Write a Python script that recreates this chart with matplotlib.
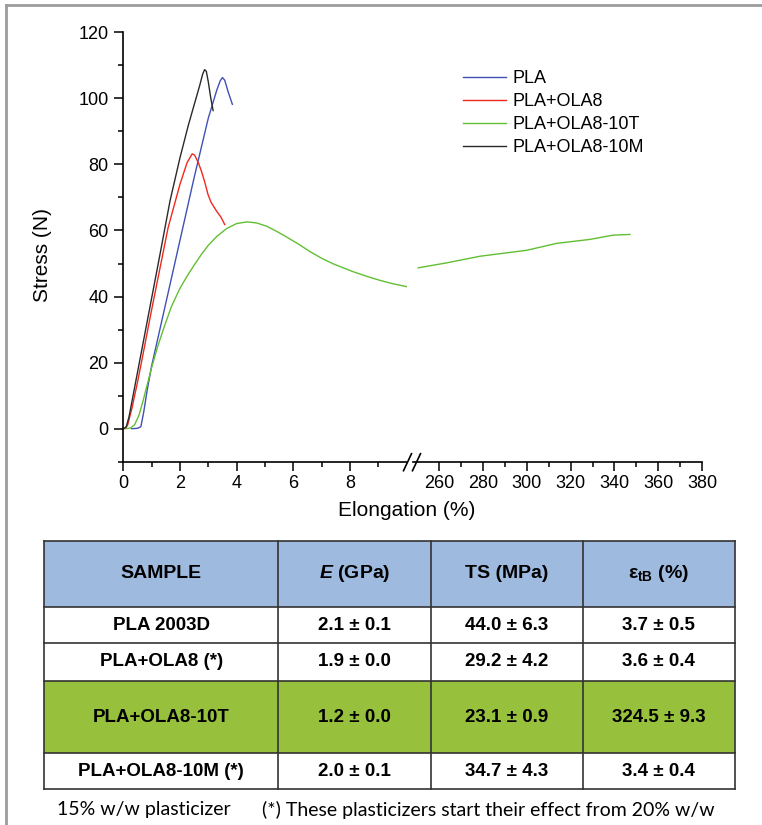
import matplotlib
matplotlib.use("Agg")
import matplotlib.pyplot as plt
from matplotlib.lines import Line2D
from matplotlib.patches import Rectangle

plt.rcParams["font.family"] = ["Liberation Sans", "DejaVu Sans"]
plt.rcParams["mathtext.fontset"] = "custom"
plt.rcParams["mathtext.it"] = "Liberation Sans:italic:bold"
plt.rcParams["mathtext.bf"] = "Liberation Sans:bold"
plt.rcParams["mathtext.rm"] = "Liberation Sans"

W, H = 762, 825

# --------------------------------------------------------------------------
# data: stress-strain curves
# --------------------------------------------------------------------------
pla_x = [0.30, 0.50, 0.62, 0.72, 0.85, 1.00, 1.50, 2.00, 2.50, 3.00, 3.30, 3.42, 3.50, 3.58, 3.70, 3.85]
pla_y = [0.0, 0.1, 0.6, 5.0, 12.0, 19.0, 38.0, 57.0, 76.0, 94.0, 102.5, 105.3, 106.3, 105.5, 102.0, 98.2]

ola8_x = [0.05, 0.15, 0.30, 0.50, 0.65, 1.00, 1.58, 2.00, 2.25, 2.43, 2.52, 2.65, 2.76, 2.88, 2.99, 3.10, 3.29, 3.45, 3.58]
ola8_y = [0.0, 1.0, 6.0, 14.0, 20.5, 36.0, 60.8, 74.0, 80.5, 83.2, 82.8, 80.5, 77.9, 74.5, 70.9, 68.5, 65.9, 64.0, 61.8]

t10_x = [0.10, 0.25, 0.40, 0.55, 0.70, 0.85, 1.00, 1.20, 1.45, 1.70, 2.00, 2.24, 2.50, 2.76, 3.00, 3.30,
         3.65, 4.00, 4.36, 4.70, 5.06, 5.40, 5.77, 6.20, 6.59, 7.00, 7.41, 8.12, 8.60, 9.06, 9.50, 10.00]
t10_y = [0.0, 0.2, 1.2, 4.0, 8.5, 13.5, 18.5, 24.5, 31.0, 37.0, 42.5, 46.0, 49.5, 52.8, 55.5, 58.2,
         60.6, 62.1, 62.6, 62.3, 61.3, 59.8, 58.0, 55.8, 53.6, 51.6, 49.9, 47.5, 46.1, 44.9, 43.9, 43.0]
t10_x_hi = [250.4, 263.4, 278.6, 299.9, 313.6, 328.8, 339.5, 347.1]
t10_y_hi = [48.7, 50.2, 52.2, 54.0, 56.1, 57.3, 58.6, 58.8]

m10_x = [0.00, 0.10, 0.20, 0.40, 0.60, 1.00, 1.30, 1.65, 2.00, 2.30, 2.50, 2.70, 2.80, 2.87, 2.93, 3.00, 3.08, 3.17]
m10_y = [0.0, 0.5, 3.5, 12.5, 21.5, 39.5, 53.0, 69.0, 82.0, 92.0, 98.0, 104.0, 107.3, 108.7, 108.2, 105.0, 100.5, 96.3]

series_names = ["PLA", "PLA+OLA8", "PLA+OLA8-10T", "PLA+OLA8-10M"]
series_colors = ["#4050b4", "#f0281e", "#62bf34", "#2a2a2a"]

# table data
col_heads = ["SAMPLE", "$E$ (GPa)", "TS (MPa)", r"ε$_{\mathbf{tB}}$ (%)"]
samples = ["PLA 2003D", "PLA+OLA8 (*)", "PLA+OLA8-10T", "PLA+OLA8-10M (*)"]
e_mod = ["2.1 ± 0.1", "1.9 ± 0.0", "1.2 ± 0.0", "2.0 ± 0.1"]
ts = ["44.0 ± 6.3", "29.2 ± 4.2", "23.1 ± 0.9", "34.7 ± 4.3"]
eps_b = ["3.7 ± 0.5", "3.6 ± 0.4", "324.5 ± 9.3", "3.4 ± 0.4"]
highlight_row = 2
note_left = "15% w/w plasticizer"
note_right = "(*) These plasticizers start their effect from 20% w/w"


def fr(x0, y0, x1, y1):
    # pixel box (top-left origin) -> figure rect
    return [x0 / W, 1 - y1 / H, (x1 - x0) / W, (y1 - y0) / H]


fig = plt.figure(figsize=(W / 100, H / 100), dpi=100)

ax1 = fig.add_axes(fr(123.3, 32.3, 406.6, 461.7))
ax2 = fig.add_axes(fr(413.0, 32.3, 702.0, 461.7))

l1, = ax1.plot(pla_x, pla_y, color=series_colors[0], lw=1.0)
l2, = ax1.plot(ola8_x, ola8_y, color=series_colors[1], lw=1.0)
l3, = ax1.plot(t10_x, t10_y, color=series_colors[2], lw=1.0)
l4, = ax1.plot(m10_x, m10_y, color=series_colors[3], lw=1.0)
ax2.plot(t10_x_hi, t10_y_hi, color=series_colors[2], lw=1.0)

for ax in (ax1, ax2):
    ax.set_ylim(-10, 120)
    ax.spines["top"].set_visible(False)
    ax.spines["right"].set_visible(False)
    ax.spines["bottom"].set_linewidth(1.2)
    ax.spines["left"].set_linewidth(1.2)
    ax.tick_params(which="major", direction="out", length=6.5, width=1.1, labelsize=13, pad=3)
    ax.tick_params(which="minor", direction="out", length=3.6, width=1.1)
    ax.patch.set_alpha(0)

ax1.set_xlim(0, 10)
ax1.set_xticks([0, 2, 4, 6, 8])
ax1.set_xticks([1, 3, 5, 7, 9], minor=True)
ax1.set_yticks([0, 20, 40, 60, 80, 100, 120])
ax1.set_yticks([-10, 10, 30, 50, 70, 90, 110], minor=True)
ax1.tick_params(axis="y", pad=4)

ax2.set_xlim(248, 380)
ax2.set_xticks([260, 280, 300, 320, 340, 360, 380])
ax2.set_xticks([270, 290, 310, 330, 350, 370], minor=True)
ax2.spines["left"].set_visible(False)
ax2.set_yticks([])

# axis break marks
yb = 461.7
for xb in (403.5, 412.5):
    fig.add_artist(Line2D([xb / W, (xb + 8) / W], [1 - (yb + 9) / H, 1 - (yb - 8) / H],
                          color="black", lw=1.2))

fig.text(407 / W, 1 - 510 / H, "Elongation (%)", ha="center", va="center", fontsize=15)
fig.text(42 / W, 1 - 255 / H, "Stress (N)", ha="center", va="center", rotation=90, fontsize=15)

ax1.legend([l1, l2, l3, l4], series_names, loc="upper left",
           bbox_to_anchor=(463 / W, 1 - 70 / H), bbox_transform=fig.transFigure,
           frameon=False, fontsize=13, handlelength=2.4, handletextpad=0.35,
           labelspacing=0.34, borderpad=0, borderaxespad=0)

# --------------------------------------------------------------------------
# table (drawn in pixel space)
# --------------------------------------------------------------------------
axt = fig.add_axes([0, 0, 1, 1])
axt.set_xlim(0, W)
axt.set_ylim(H, 0)
axt.axis("off")
axt.patch.set_alpha(0)

col_edges = [44, 278.3, 430.7, 582.7, 735]
row_edges = [541, 606.7, 643.3, 680.7, 753.3, 789.3]
head_color = "#9fbadf"
green = "#97c13c"
edge = "#333333"

axt.add_patch(Rectangle((col_edges[0], row_edges[0]), col_edges[-1] - col_edges[0],
                        row_edges[1] - row_edges[0], facecolor=head_color, edgecolor="none"))
r = highlight_row + 1
axt.add_patch(Rectangle((col_edges[0], row_edges[r]), col_edges[-1] - col_edges[0],
                        row_edges[r + 1] - row_edges[r], facecolor=green, edgecolor="none"))
for x in col_edges:
    axt.plot([x, x], [row_edges[0], row_edges[-1]], color=edge, lw=1.2)
for y in row_edges:
    axt.plot([col_edges[0], col_edges[-1]], [y, y], color=edge, lw=1.2)

def cx(i):
    return (col_edges[i] + col_edges[i + 1]) / 2

def cy(j):
    return (row_edges[j] + row_edges[j + 1]) / 2

for i, h in enumerate(col_heads):
    axt.text(cx(i), cy(0), h, ha="center", va="center", fontsize=14, fontweight="bold")
columns = [samples, e_mod, ts, eps_b]
for i, col in enumerate(columns):
    for j, val in enumerate(col):
        axt.text(cx(i), cy(j + 1), val, ha="center", va="center", fontsize=13.5, fontweight="bold")

axt.text(57, 810, note_left, ha="left", va="center", fontsize=14, family=["Lato", "DejaVu Sans"])
axt.text(262, 810, note_right, ha="left", va="center", fontsize=14, family=["Lato", "DejaVu Sans"])

# grey frame at top and left
fig.add_artist(Line2D([6 / W, 1], [1 - 5 / H, 1 - 5 / H], color="#9c9c9c", lw=2.0))
fig.add_artist(Line2D([6 / W, 6 / W], [0, 1 - 5 / H], color="#9c9c9c", lw=2.0))

fig.savefig("out.png", dpi=100)
